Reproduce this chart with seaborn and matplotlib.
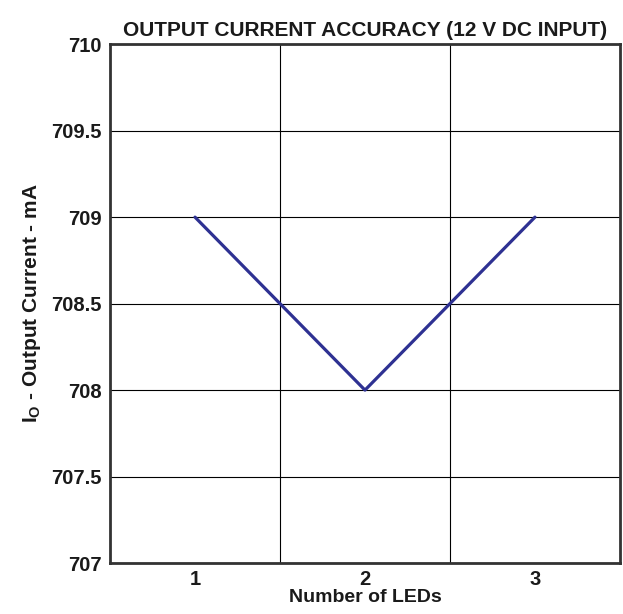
import pandas as pd
import matplotlib.pyplot as plt
import seaborn as sns
from matplotlib.ticker import FixedLocator

# data
num_leds = [1, 2, 3]
output_current = [709, 708, 709]
y_ticks = [707, 707.5, 708, 708.5, 709, 709.5, 710]
y_tick_labels = ['707', '707.5', '708', '708.5', '709', '709.5', '710']

df = pd.DataFrame({'leds': num_leds, 'current': output_current})

sns.set_style('white')
plt.rcParams['font.family'] = ['Liberation Sans', 'DejaVu Sans']
plt.rcParams['font.weight'] = 'bold'
plt.rcParams['mathtext.default'] = 'regular'

fig = plt.figure(figsize=(6.23, 6.14), dpi=100)
ax = fig.add_axes([0.1766, 0.083, 0.8185, 0.845])

sns.lineplot(data=df, x='leds', y='current', color='#2e3192', linewidth=2.3, ax=ax)

ax.set_xlim(0.5, 3.5)
ax.set_ylim(707, 710)
ax.set_xticks(num_leds)
ax.set_xticklabels([str(n) for n in num_leds])
ax.xaxis.set_minor_locator(FixedLocator([1.5, 2.5]))
ax.set_yticks(y_ticks)
ax.set_yticklabels(y_tick_labels)
ax.tick_params(axis='both', which='both', length=0, labelsize=14.5, colors='#1a1a1a')
ax.tick_params(axis='y', pad=6)
ax.tick_params(axis='x', pad=5)

ax.grid(True, which='minor', axis='x', color='black', linewidth=0.8)
ax.grid(True, which='major', axis='y', color='black', linewidth=0.8)
ax.set_axisbelow(True)

for s in ax.spines.values():
    s.set_color('#333333')
    s.set_linewidth(2)

ax.set_title('OUTPUT CURRENT ACCURACY (12 V DC INPUT)', fontsize=15, fontweight='bold',
             pad=6, color='#1a1a1a')
ax.set_xlabel('Number of LEDs', fontsize=14, fontweight='bold', labelpad=0, color='#1a1a1a')
ax.set_ylabel('I$_O$ - Output Current - mA', fontsize=15, fontweight='bold', labelpad=6,
              color='#1a1a1a')

plt.savefig('out.png', dpi=100)
